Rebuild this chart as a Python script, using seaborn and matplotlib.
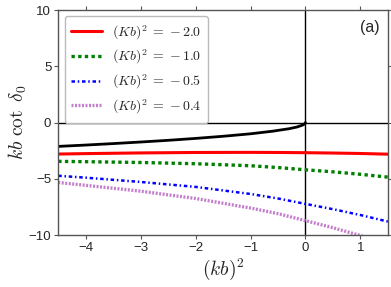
import numpy as np
import pandas as pd
import matplotlib
matplotlib.use("Agg")
import matplotlib.pyplot as plt
import seaborn as sns

# values
kb2_bound = [-4.5, -4.0, -3.5, -3.0, -2.5, -2.0, -1.5, -1.0, -0.6, -0.3, -0.15, -0.06, -0.02, 0.0]
kcot_bound = [-2.12, -2.0, -1.87, -1.73, -1.58, -1.41, -1.22, -1.0, -0.77, -0.55, -0.39, -0.24, -0.14, 0.0]

kb2 = [-4.5, -4.0, -3.0, -2.0, -1.0, -0.5, 0.0, 0.5, 1.0, 1.5]
kcot_m20 = [-2.80, -2.76, -2.70, -2.66, -2.65, -2.66, -2.68, -2.71, -2.75, -2.81]
kcot_m10 = [-3.45, -3.48, -3.55, -3.66, -3.84, -4.00, -4.20, -4.38, -4.60, -4.85]
kcot_m05 = [-4.73, -4.90, -5.28, -5.72, -6.35, -6.75, -7.23, -7.70, -8.22, -8.80]
kcot_m04 = [-5.33, -5.58, -6.10, -6.75, -7.60, -8.10, -8.72, -9.35, -10.05, -10.80]

labels = [r"$(Kb)^2\;=\;{-}\,2.0$", r"$(Kb)^2\;=\;{-}\,1.0$",
          r"$(Kb)^2\;=\;{-}\,0.5$", r"$(Kb)^2\;=\;{-}\,0.4$"]
colors = ["#ff0000", "#008000", "#0000ff", "#c47fcc"]
dash_patterns = [None, (1.0, 1.0), (1.4, 1.1, 0.6, 1.1), (0.6, 0.45)]
widths = [2.2, 2.4, 1.8, 2.4]

sns.set_theme(style="ticks")
plt.rcParams["font.family"] = ["Liberation Sans", "DejaVu Sans"]
plt.rcParams["mathtext.fontset"] = "cm"

fig = plt.figure(figsize=(3.91, 2.87), dpi=100)
ax = fig.add_axes([0.149, 0.181, 0.843, 0.784])

ax.axhline(0, color="black", lw=1.0, zorder=1)
ax.axvline(0, color="black", lw=1.0, zorder=1)

df_bound = pd.DataFrame({"x": kb2_bound, "y": kcot_bound})
sns.lineplot(data=df_bound, x="x", y="y", color="black", lw=2.0, ax=ax, sort=False)

series = [kcot_m20, kcot_m10, kcot_m05, kcot_m04]
for vals, lab, c, dp, lw in zip(series, labels, colors, dash_patterns, widths):
    d = pd.DataFrame({"x": kb2, "y": vals})
    line = sns.lineplot(data=d, x="x", y="y", color=c, lw=lw, label=lab, ax=ax).lines[-1]
    if dp is not None:
        line.set_dashes(dp)

ax.set_xlim(-4.5, 1.5)
ax.set_ylim(-10, 10)
ax.set_xticks([-4, -3, -2, -1, 0, 1])
ax.set_yticks([-10, -5, 0, 5, 10])
ax.tick_params(top=True, right=True, labelsize=9.5, length=3, width=0.8, color="#555555", pad=2)
for s in ax.spines.values():
    s.set_color("#555555")
    s.set_linewidth(1.0)

ax.set_xlabel(r"$(kb)^2$", fontsize=14, labelpad=2)
ax.set_ylabel(r"$kb\ \cot\ \delta_0$", fontsize=14, labelpad=0)
ax.text(0.975, 0.955, "(a)", transform=ax.transAxes, ha="right", va="top", fontsize=11.5)

leg = ax.legend(loc="upper left", fontsize=10, handlelength=2.2, handletextpad=0.7,
                labelspacing=0.45, borderaxespad=0.45, borderpad=0.5,
                framealpha=1, edgecolor="#bbbbbb", fancybox=True)
for h, dp in zip(leg.get_lines(), dash_patterns):
    if dp is not None:
        h.set_dashes(dp)

fig.savefig("out.png", dpi=100)
